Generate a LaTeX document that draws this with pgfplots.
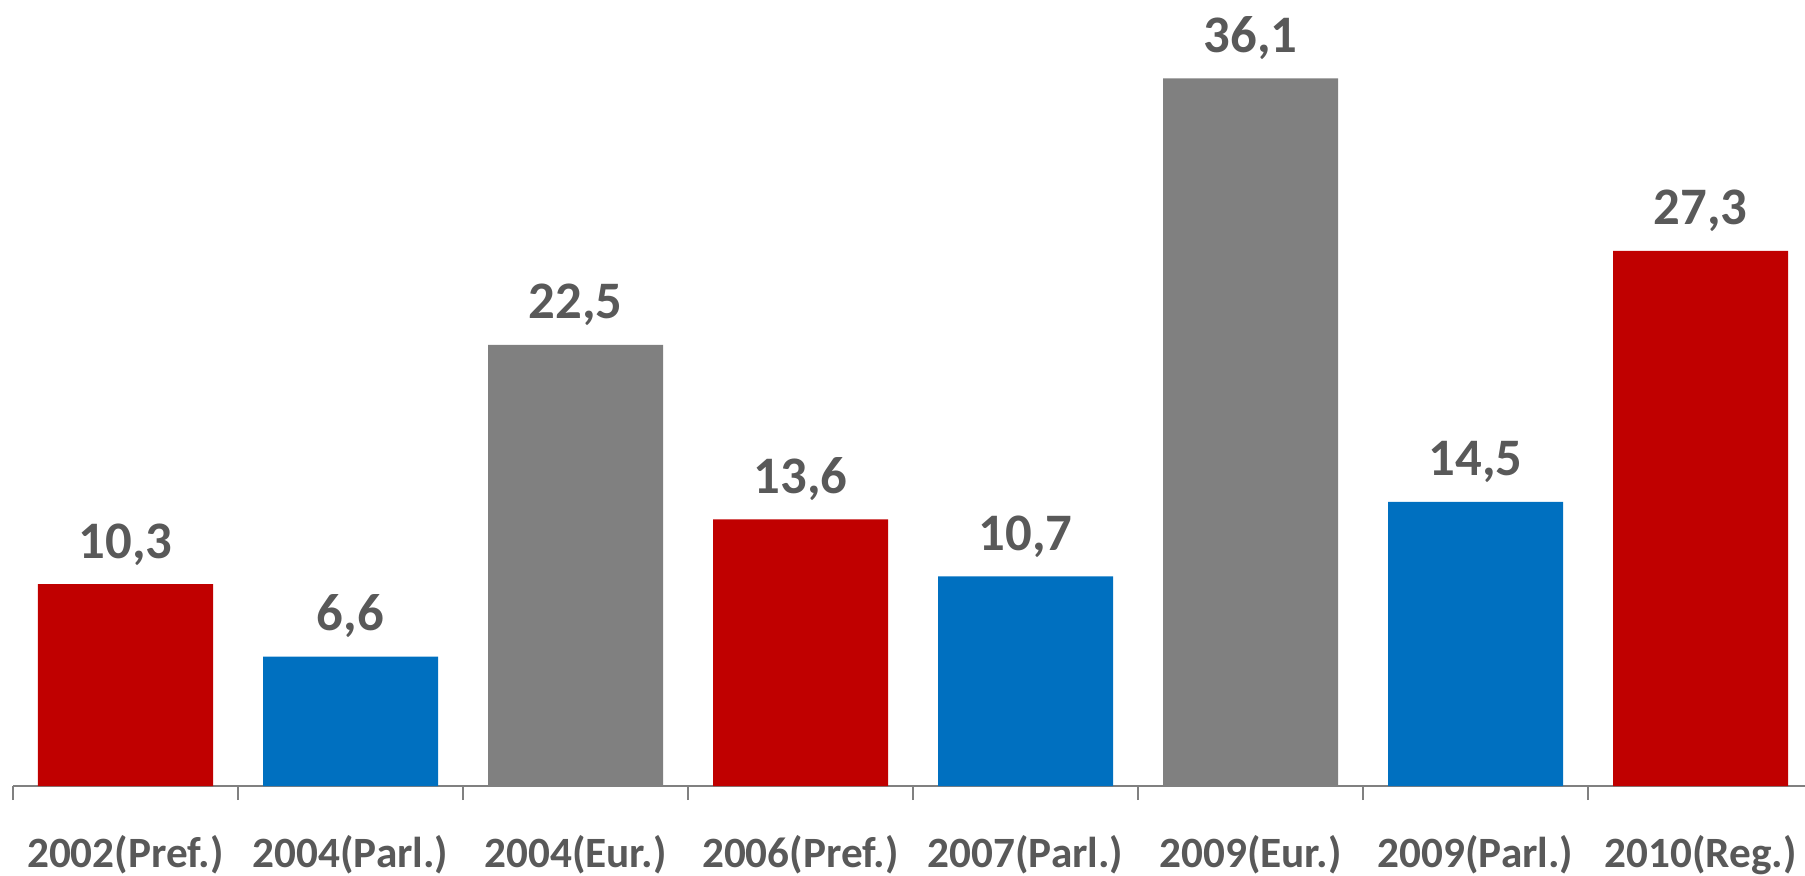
\documentclass[border=0pt]{standalone}
\usepackage{pgfplots}
\pgfplotsset{compat=1.18}
\usepackage{fontspec}
\setmainfont{Carlito}
\definecolor{myred}{HTML}{C00000}
\definecolor{myblue}{HTML}{0070C0}
\definecolor{mygray}{HTML}{808080}
\definecolor{axisgray}{HTML}{808080}
\definecolor{labelgray}{HTML}{595959}
\begin{document}
\begin{tikzpicture}
\begin{axis}[
  scale only axis, width=180mm, height=78.6mm,
  xmin=-0.5, xmax=7.5, ymin=0, ymax=40.1,
  axis x line=bottom, axis y line=none,
  axis line style={draw=axisgray, line width=0.2mm, -},
  xtick={0,1,2,3,4,5,6,7},
  xticklabels={2002(Pref.),2004(Parl.),2004(Eur.),2006(Pref.),2007(Parl.),2009(Eur.),2009(Parl.),2010(Reg.)},
  major x tick style={draw=none},
  extra x ticks={-0.5,0.5,1.5,2.5,3.5,4.5,5.5,6.5,7.5},
  extra x tick labels={},
  extra x tick style={major x tick style={draw=axisgray, line width=0.2mm}, major tick length=1.4mm, tick align=outside},
  xticklabel style={anchor=base, yshift=-6.6mm, font=\fontsize{12.3}{14}\selectfont\bfseries, text=labelgray},
  ybar, bar width=17.5mm, bar shift=0pt,
  nodes near coords, point meta=explicit symbolic,
  every node near coord/.append style={anchor=base, yshift=2.6mm, font=\fontsize{15}{18}\selectfont\bfseries, text=labelgray},
  clip=false,
]
\addplot[fill=myred, draw=none] coordinates {(0,10.3) [10,3] (3,13.6) [13,6] (7,27.3) [27,3]};
\addplot[fill=myblue, draw=none] coordinates {(1,6.6) [6,6] (4,10.7) [10,7] (6,14.5) [14,5]};
\addplot[fill=mygray, draw=none] coordinates {(2,22.5) [22,5] (5,36.1) [36,1]};
\end{axis}
\pgfresetboundingbox
\path[use as bounding box] (-1.3mm,-8.9mm) rectangle (179.2mm,78.6mm);
\end{tikzpicture}
\end{document}
